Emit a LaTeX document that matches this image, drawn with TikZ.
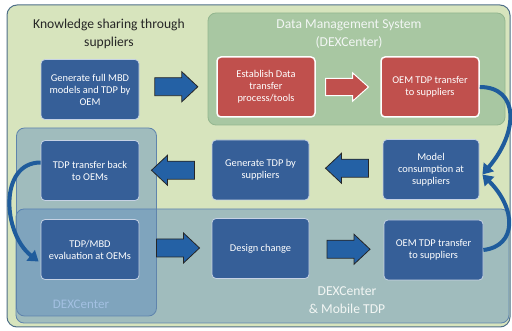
\documentclass[tikz,border=0pt]{standalone}
\usepackage{fontspec}
\setmainfont{Carlito}
\usetikzlibrary{calc,arrows.meta}
\definecolor{outerfill}{HTML}{D7E4BD}
\definecolor{outerdraw}{HTML}{4F6F88}
\definecolor{dmsfill}{HTML}{A8C7A2}
\definecolor{dmsdraw}{HTML}{93B68F}
\definecolor{dexfill}{HTML}{4F81BD}
\definecolor{dexdraw}{HTML}{5F84AC}
\definecolor{nodeblue}{HTML}{365F98}
\definecolor{nodeblueline}{HTML}{C6D2E4}
\definecolor{nodered}{HTML}{C0504D}
\definecolor{arrblue}{HTML}{2461A5}
\definecolor{curveblue}{HTML}{1F5C9C}
\definecolor{dextext}{HTML}{A3C0E2}
\definecolor{lighttext}{HTML}{F2F6F4}
\tikzset{
  container/.style={rounded corners=8pt, line width=0.8pt},
  stepblue/.style={rectangle, rounded corners=4pt, fill=nodeblue, draw=nodeblueline, line width=0.8pt,
     text=white, align=center, minimum width=98pt, minimum height=60pt, inner sep=2pt,
     font=\fontsize{10.4}{12}\selectfont},
  stepred/.style={stepblue, fill=nodered, draw=white, line width=1.5pt},
  titletext/.style={align=center, font=\fontsize{13.6}{17.5}\selectfont, inner sep=0pt},
  bluearrow/.style={fill=arrblue, draw=black!85, line width=0.8pt, line join=miter},
  redarrow/.style={fill=nodered, draw=white, line width=1pt, line join=miter},
  curvearrow/.style={draw=curveblue, line width=4pt, -{Triangle[length=10pt,width=13pt]}},
  pics/blockarrow/.style={code={
    \path[pic actions] (-21.5,-9) -- (5.5,-9) -- (5.5,-15) -- (21.5,0) -- (5.5,15) -- (5.5,9) -- (-21.5,9) -- cycle;}}
}
\begin{document}
\begin{tikzpicture}[x=1pt,y=-1pt]
\useasboundingbox (0,0) rectangle (512,331);
% containers
\node[container, rounded corners=10pt, fill=outerfill, draw=outerdraw, line width=1pt, minimum width=503pt, minimum height=322pt] (outer) at (258.5,166) {};
\node[titletext, text=black!85] (ttl) at (109,34) {Knowledge sharing through\\suppliers};
\node[container, fill=dmsfill, draw=dmsdraw, minimum width=297pt, minimum height=112pt] (dms) at (356.5,69) {};
\node[titletext, text=lighttext] (dmsttl) at (349,34) {Data Management System\\(DEXCenter)};
\node[container, fill=dexfill, fill opacity=0.4, draw=dexdraw, minimum width=493pt, minimum height=114pt] (bottombox) at (262.5,266) {};
\node[container, fill=dexfill, fill opacity=0.4, draw=dexdraw, minimum width=140pt, minimum height=188pt] (leftbox) at (86.5,222) {};
\node[titletext, text=dextext, font=\fontsize{13}{15}\selectfont] (dexttl) at (81,304) {DEXCenter};
\node[titletext, text=lighttext] (mobttl) at (347,300) {DEXCenter\\\& Mobile TDP};
% steps
\node[stepblue] (n1) at (90,89.5) {Generate full MBD\\models and TDP by\\OEM};
\node[stepred] (n2) at (266,87) {Establish Data\\transfer\\process/tools};
\node[stepred] (n3) at (430,87) {OEM TDP transfer\\to suppliers};
\node[stepblue, minimum width=96pt] (n4) at (431,169.5) {Model\\consumption at\\suppliers};
\node[stepblue, minimum width=97pt] (n5) at (260.5,170) {Generate TDP by\\suppliers};
\node[stepblue] (n6) at (90,170.5) {TDP transfer back\\to OEMs};
\node[stepblue] (n7) at (90,249.5) {TDP/MBD\\evaluation at OEMs};
\node[stepblue, minimum width=97pt] (n8) at (260.5,248.5) {Design change};
\node[stepblue, minimum width=99pt] (n9) at (433.5,250) {OEM TDP transfer\\to suppliers};
% block arrows
\pic[bluearrow] at ($(n1.east)!0.5!(n2.west)+(-1.5,-1.5)$) {blockarrow};
\pic[redarrow, yscale=0.95] at ($(n2.east)!0.5!(n3.west)+(-1,0)$) {blockarrow};
\pic[bluearrow, xscale=-1] at ($(n4.west)!0.5!(n5.east)+(1,-1.5)$) {blockarrow};
\pic[bluearrow, xscale=-1] at ($(n5.west)!0.5!(n6.east)+(-2.5,0)$) {blockarrow};
\pic[bluearrow] at ($(n7.east)!0.5!(n8.west)+(2.5,-1)$) {blockarrow};
\pic[bluearrow] at ($(n8.east)!0.5!(n9.west)+(2,0)$) {blockarrow};
% curved connectors
\coordinate (n4in) at ($(n4.east)+(3,5)$);
\draw[curvearrow] (n3.east) .. controls +(40,0) and +(36,-42) .. (n4in);
\draw[curvearrow] (n9.east) .. controls +(34,-4) and +(34,34) .. (n4in);
\coordinate (n6out) at ($(n6.west)+(0,-8)$);
\coordinate (n7in) at ($(n7.west)+(-2,12)$);
\draw[curvearrow] (n6out) .. controls +(-42,0) and +(-36,-28) .. (n7in);
\end{tikzpicture}
\end{document}
